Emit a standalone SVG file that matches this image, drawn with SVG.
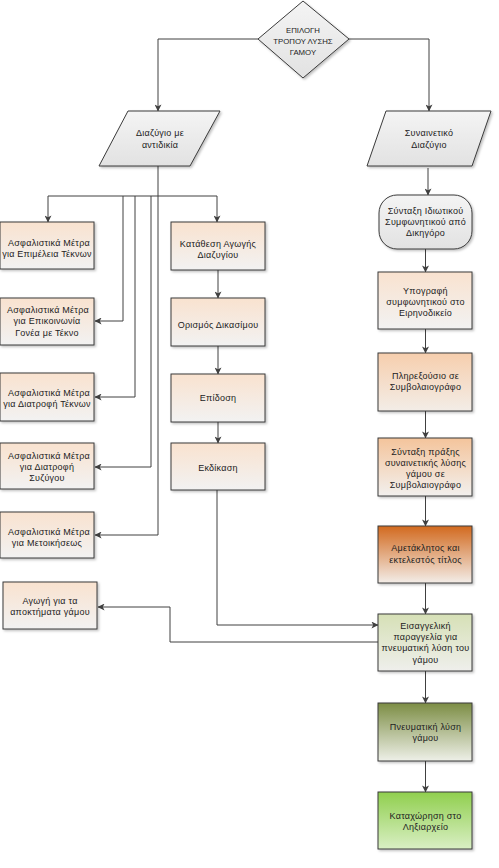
<svg xmlns="http://www.w3.org/2000/svg" width="499" height="868" viewBox="0 0 499 868">
<defs>
<style>
text{font-family:"Liberation Sans",Arial,sans-serif;font-size:9px;letter-spacing:0.25px;fill:#222;text-anchor:middle;dominant-baseline:central}
.sm{font-size:7.8px;letter-spacing:0}
.c{fill:none;stroke:#404040;stroke-width:1}
.b{stroke:#3a3a3a;stroke-width:1;filter:url(#sh)}
</style>
<filter id="sh" x="-10%" y="-10%" width="130%" height="130%">
<feDropShadow dx="1.5" dy="1.5" stdDeviation="0.8" flood-color="#000" flood-opacity="0.25"/>
</filter>
<linearGradient id="gGray" x1="0" y1="0" x2="0" y2="1"><stop offset="0" stop-color="#f4f4f4"/><stop offset="1" stop-color="#e2e2e2"/></linearGradient>
<linearGradient id="gPeach" x1="0" y1="0" x2="0" y2="1"><stop offset="0" stop-color="#f9e2cf"/><stop offset="1" stop-color="#f2f2f2"/></linearGradient>
<linearGradient id="gPeach2" x1="0" y1="0" x2="0" y2="1"><stop offset="0" stop-color="#f6cead"/><stop offset="1" stop-color="#f3ede7"/></linearGradient>
<linearGradient id="gPeach3" x1="0" y1="0" x2="0" y2="1"><stop offset="0" stop-color="#f4c49b"/><stop offset="1" stop-color="#f2f0ee"/></linearGradient>
<linearGradient id="gOrange" x1="0" y1="0" x2="0" y2="1"><stop offset="0" stop-color="#d2691e"/><stop offset="1" stop-color="#f3ede8"/></linearGradient>
<linearGradient id="gLGreen" x1="0" y1="0" x2="0" y2="1"><stop offset="0" stop-color="#d6e0b6"/><stop offset="1" stop-color="#efefec"/></linearGradient>
<linearGradient id="gOlive" x1="0" y1="0" x2="0" y2="1"><stop offset="0" stop-color="#7c8d44"/><stop offset="1" stop-color="#eef0e8"/></linearGradient>
<linearGradient id="gGreen" x1="0" y1="0" x2="0" y2="1"><stop offset="0" stop-color="#90cf4e"/><stop offset="1" stop-color="#d9efc4"/></linearGradient>
<marker id="ar" viewBox="0 0 8 8" refX="7.5" refY="4" markerWidth="7" markerHeight="7" markerUnits="userSpaceOnUse" orient="auto">
<path d="M0,0 L8,4 L0,8 L2,4 Z" fill="#404040"/>
</marker>
</defs>
<rect width="499" height="868" fill="#fff"/>

<g id="connectors">
<path class="c" d="M258,39 H158 V111" marker-end="url(#ar)"/>
<path class="c" d="M349,39 H429 V111" marker-end="url(#ar)"/>
<path class="c" d="M158,166 V196"/>
<path class="c" d="M48,196 H217"/>
<path class="c" d="M48,196 V222" marker-end="url(#ar)"/>
<path class="c" d="M217,196 V222" marker-end="url(#ar)"/>
<path class="c" d="M123,196 V321 H95" marker-end="url(#ar)"/>
<path class="c" d="M135,196 V397 H95" marker-end="url(#ar)"/>
<path class="c" d="M151,196 V467 H95" marker-end="url(#ar)"/>
<path class="c" d="M158,196 V535 H95" marker-end="url(#ar)"/>
<path class="c" d="M218,270 V298" marker-end="url(#ar)"/>
<path class="c" d="M218,346 V374" marker-end="url(#ar)"/>
<path class="c" d="M218,422 V443" marker-end="url(#ar)"/>
<path class="c" d="M217,490 V625 H378" marker-end="url(#ar)"/>
<path class="c" d="M378,642 H170 V607 H98" marker-end="url(#ar)"/>
<path class="c" d="M428,168 V195" marker-end="url(#ar)"/>
<path class="c" d="M425.5,249 V272" marker-end="url(#ar)"/>
<path class="c" d="M425.5,329 V353" marker-end="url(#ar)"/>
<path class="c" d="M425.5,411 V438" marker-end="url(#ar)"/>
<path class="c" d="M425.5,496 V526" marker-end="url(#ar)"/>
<path class="c" d="M425.5,583 V614" marker-end="url(#ar)"/>
<path class="c" d="M425.5,671 V703" marker-end="url(#ar)"/>
<path class="c" d="M425.5,761 V792" marker-end="url(#ar)"/>
</g>

<g id="n-choice">
<polygon class="b" points="303,1 349,39 303,78 258,39" fill="url(#gGray)"/>
<text class="sm" x="303" y="30">ΕΠΙΛΟΓΗ</text>
<text class="sm" x="303" y="41">ΤΡΟΠΟΥ ΛΥΣΗΣ</text>
<text class="sm" x="303" y="52">ΓΑΜΟΥ</text>
</g>

<g id="n-contested">
<polygon class="b" points="128,111 220,111 190,166 99,166" fill="url(#gGray)"/>
<text x="160" y="133">Διαζύγιο με</text>
<text x="160" y="145">αντιδικία</text>
</g>

<g id="n-consensual">
<polygon class="b" points="386,111 491,111 472,166 367,166" fill="url(#gGray)"/>
<text x="429" y="133">Συναινετικό</text>
<text x="429" y="145">Διαζύγιο</text>
</g>

<g id="n-m1">
<rect class="b" x="0" y="222" width="94" height="47" fill="url(#gPeach)"/>
<text x="49" y="243">Ασφαλιστικά Μέτρα</text>
<text x="47" y="254">για Επιμέλεια Τέκνων</text>
</g>
<g id="n-m2">
<rect class="b" x="0" y="298" width="94" height="47" fill="url(#gPeach)"/>
<text x="48" y="310">Ασφαλιστικά Μέτρα</text>
<text x="47" y="321">για Επικοινωνία</text>
<text x="47" y="333">Γονέα με Τέκνο</text>
</g>
<g id="n-m3">
<rect class="b" x="0" y="373" width="94" height="48" fill="url(#gPeach)"/>
<text x="49" y="393">Ασφαλιστικά Μέτρα</text>
<text x="47" y="404">για Διατροφή Τέκνων</text>
</g>
<g id="n-m4">
<rect class="b" x="0" y="443" width="94" height="46" fill="url(#gPeach)"/>
<text x="49" y="456">Ασφαλιστικά Μέτρα</text>
<text x="47" y="467">για Διατροφή</text>
<text x="47" y="478">Συζύγου</text>
</g>
<g id="n-m5">
<rect class="b" x="0" y="512" width="94" height="46" fill="url(#gPeach)"/>
<text x="49" y="532">Ασφαλιστικά Μέτρα</text>
<text x="47" y="543">για Μετοικήσεως</text>
</g>
<g id="n-assets">
<rect class="b" x="3" y="582" width="94" height="47" fill="url(#gPeach)"/>
<text x="50" y="601">Αγωγή για τα</text>
<text x="50" y="612">αποκτήματα γάμου</text>
</g>

<g id="n-filing">
<rect class="b" x="171" y="222" width="94" height="48" fill="url(#gPeach)"/>
<text x="218" y="244">Κατάθεση Αγωγής</text>
<text x="218" y="255">Διαζυγίου</text>
</g>
<g id="n-hearing-date">
<rect class="b" x="171" y="298" width="94" height="48" fill="url(#gPeach)"/>
<text x="218" y="325">Ορισμός Δικασίμου</text>
</g>
<g id="n-service">
<rect class="b" x="171" y="374" width="94" height="48" fill="url(#gPeach)"/>
<text x="218" y="398">Επίδοση</text>
</g>
<g id="n-trial">
<rect class="b" x="171" y="443" width="94" height="47" fill="url(#gPeach)"/>
<text x="218" y="468">Εκδίκαση</text>
</g>

<g id="n-agreement">
<rect class="b" x="379" y="195" width="93" height="54" rx="18" ry="18" fill="url(#gGray)"/>
<text x="425.5" y="211">Σύνταξη Ιδιωτικού</text>
<text x="425.5" y="222">Συμφωνητικού από</text>
<text x="425.5" y="233">Δικηγόρο</text>
</g>
<g id="n-signature">
<rect class="b" x="378" y="272" width="94" height="57" fill="url(#gPeach)"/>
<text x="425.5" y="291">Υπογραφή</text>
<text x="425.5" y="302">συμφωνητικού στο</text>
<text x="425.5" y="313">Ειρηνοδικείο</text>
</g>
<g id="n-proxy">
<rect class="b" x="378" y="353" width="94" height="58" fill="url(#gPeach2)"/>
<text x="425.5" y="376">Πληρεξούσιο σε</text>
<text x="425.5" y="387">Συμβολαιογράφο</text>
</g>
<g id="n-deed">
<rect class="b" x="378" y="438" width="94" height="58" fill="url(#gPeach3)"/>
<text x="425.5" y="452">Σύνταξη πράξης</text>
<text x="425.5" y="463">συναινετικής λύσης</text>
<text x="425.5" y="474">γάμου σε</text>
<text x="425.5" y="485">Συμβολαιογράφο</text>
</g>
<g id="n-title">
<rect class="b" x="378" y="526" width="94" height="57" fill="url(#gOrange)"/>
<text x="425.5" y="548">Αμετάκλητος και</text>
<text x="425.5" y="560">εκτελεστός τίτλος</text>
</g>
<g id="n-prosecutor">
<rect class="b" x="378" y="614" width="94" height="57" fill="url(#gLGreen)"/>
<text x="425.5" y="626">Εισαγγελική</text>
<text x="425.5" y="637">παραγγελία για</text>
<text x="425.5" y="648">πνευματική λύση του</text>
<text x="425.5" y="660">γάμου</text>
</g>
<g id="n-spiritual">
<rect class="b" x="378" y="703" width="94" height="58" fill="url(#gOlive)"/>
<text x="425.5" y="727">Πνευματική λύση</text>
<text x="425.5" y="738">γάμου</text>
</g>
<g id="n-registry">
<rect class="b" x="378" y="792" width="94" height="57" fill="url(#gGreen)"/>
<text x="425.5" y="816">Καταχώρηση στο</text>
<text x="425.5" y="827">Ληξιαρχείο</text>
</g>
</svg>
